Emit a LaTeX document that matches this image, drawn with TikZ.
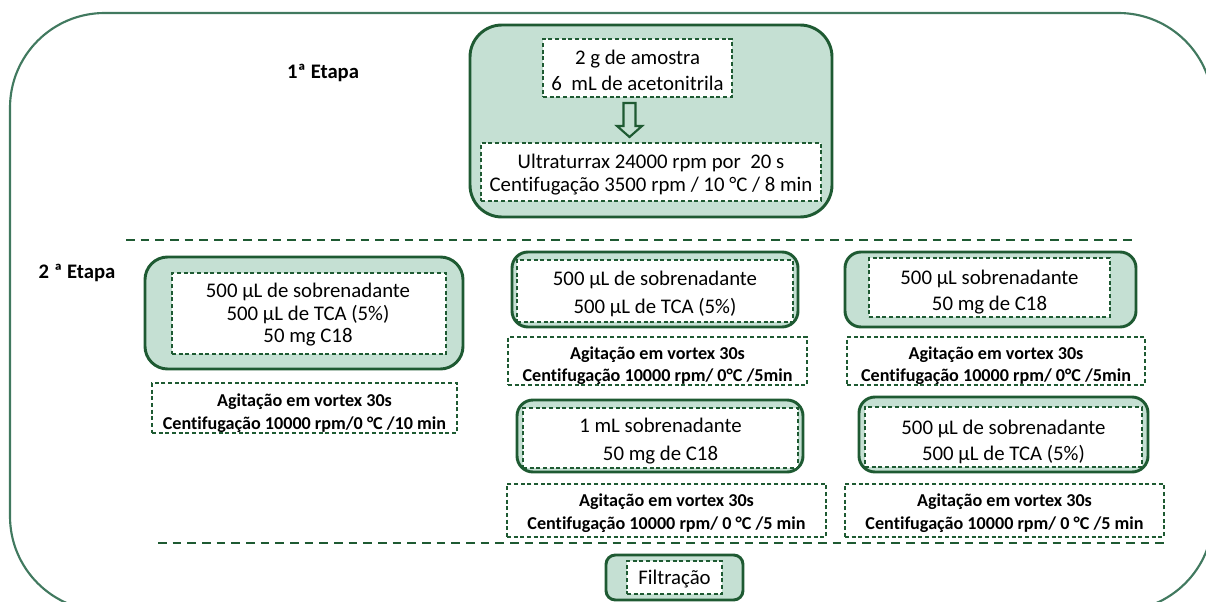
\documentclass[tikz,border=0pt]{standalone}
\usepackage{fontspec}
\setmainfont{Carlito}[Ligatures=NoCommon]
\usetikzlibrary{fit,calc}

\definecolor{framegreen}{HTML}{41795F}
\definecolor{darkgreen}{HTML}{1E5A32}
\definecolor{palegreen}{HTML}{C5E0D3}

\tikzset{
  stagebox/.style={draw=darkgreen, line width=2.2pt, fill=palegreen, inner sep=0pt},
  dashbox/.style={draw=darkgreen, line width=1pt, dash pattern=on 3pt off 2pt, fill=white, inner sep=0pt},
  notebox/.style={draw=darkgreen, line width=1pt, dash pattern=on 3pt off 2pt, fill=white, inner sep=0pt},
  sepline/.style={draw=darkgreen, line width=1.4pt, dash pattern=on 6.5pt off 4.5pt},
  bodytxt/.style={align=center, inner sep=0pt, text=black},
  boldtxt/.style={align=center, inner sep=0pt, text=black, font=\bfseries\fontsize{13.6}{16.8}\selectfont},
  stagelabel/.style={inner sep=0pt, text=black, font=\bfseries\fontsize{15.5}{18}\selectfont},
}

\begin{document}
\begin{tikzpicture}[x=0.75pt, y=-0.75pt]
\useasboundingbox (0,0) rectangle (1206,602);

% outer frame
\draw[framegreen, line width=1.6pt, rounded corners=71pt] (10,13) rectangle (1213,611);

% stage labels
\node[stagelabel] (lab1) at (323,73) {1ª Etapa};
\node[stagelabel] (lab2) at (77,273) {2 ª Etapa};

% ---------- stage 1 ----------
\node[stagebox, rounded corners=24pt, fit={(470,25) (832,217)}] (s1) {};
\node[dashbox, fit={(543,39) (732,97)}] (s1a) {};
\node[dashbox, fit={(481,143) (821,201)}] (s1b) {};
\node[bodytxt, font=\fontsize{15.6}{19.5}\selectfont] (s1at) at (637.5,70) {2 g de amostra\\6 \ mL de acetonitrila};
\node[bodytxt, font=\fontsize{15.6}{16.8}\selectfont] (s1bt) at (651,174.5) {Ultraturrax 24000 rpm por \ 20 s\\Centifugação 3500 rpm / 10 °C / 8 min};
% hollow block arrow between the two steps
\coordinate (arr) at (629.5,103);
\draw[darkgreen, line width=1.6pt, line join=miter]
  ($(arr)+(-6,0)$) -- ($(arr)+(6,0)$) -- ($(arr)+(6,23)$) -- ($(arr)+(12.5,23)$)
  -- ($(arr)+(0,34)$) -- ($(arr)+(-12.5,23)$) -- ($(arr)+(-6,23)$) -- cycle;

% separator
\coordinate (sep1a) at (126,240);
\coordinate (sep1b) at (1138,240);
\draw[sepline] (sep1a) -- (sep1b);

% ---------- stage 2, column A ----------
\node[stagebox, rounded corners=17pt, fit={(145,257) (463,369)}] (a) {};
\node[dashbox, fit={(172,273) (446,354)}] (ad) {};
\node[bodytxt, font=\fontsize{15.6}{16.9}\selectfont] (at) at (308,315) {500 µL de sobrenadante\\500 µL de TCA (5\%)\\50 mg C18};
\node[notebox, fit={(152,383) (457,433)}] (an) {};
\node[boldtxt] (ant) at (304.5,413) {Agitação em vortex 30s\\Centifugação 10000 rpm/0 °C /10 min};

% ---------- stage 2, column B ----------
\node[stagebox, rounded corners=12pt, fit={(512,252) (798,327)}] (b) {};
\node[dashbox, fit={(517,260) (793,322)}] (bd) {};
\node[bodytxt, font=\fontsize{15.6}{20.5}\selectfont] (bt) at (655,294) {500 µL de sobrenadante\\500 µL de TCA (5\%)};
\node[notebox, fit={(508,337) (807,385)}] (bn) {};
\node[boldtxt] (bnt) at (657.5,365.5) {Agitação em vortex 30s\\Centifugação 10000 rpm/ 0°C /5min};

\node[stagebox, rounded corners=12pt, fit={(517,400) (803,472)}] (d) {};
\node[dashbox, fit={(523,408) (798,468)}] (dd) {};
\node[bodytxt, font=\fontsize{15.6}{20.5}\selectfont] (dt) at (660.5,441) {1 mL sobrenadante\\50 mg de C18};
\node[notebox, fit={(507,484) (826,537)}] (dn) {};
\node[boldtxt] (dnt) at (666.5,513) {Agitação em vortex 30s\\Centifugação 10000 rpm/ 0 °C /5 min};

% ---------- stage 2, column C ----------
\node[stagebox, rounded corners=12pt, fit={(845,252) (1136,327)}] (c) {};
\node[dashbox, fit={(869,258) (1110,317)}] (cd) {};
\node[bodytxt, font=\fontsize{15.6}{19.5}\selectfont] (ct) at (989.5,292) {500 µL sobrenadante\\50 mg de C18};
\node[notebox, fit={(847,337) (1145,385)}] (cn) {};
\node[boldtxt] (cnt) at (996,365.5) {Agitação em vortex 30s\\Centifugação 10000 rpm/ 0°C /5min};

\node[stagebox, rounded corners=12pt, fit={(859,397) (1148,472)}] (e) {};
\node[dashbox, fit={(865,407) (1142,467)}] (ed) {};
\node[bodytxt, font=\fontsize{15.6}{19.5}\selectfont] (et) at (1003.5,442) {500 µL de sobrenadante\\500 µL de TCA (5\%)};
\node[notebox, fit={(845,484) (1164,537)}] (en) {};
\node[boldtxt] (ent) at (1004.5,513) {Agitação em vortex 30s\\Centifugação 10000 rpm/ 0 °C /5 min};

% separator
\coordinate (sep2a) at (158,543);
\coordinate (sep2b) at (1169,543);
\draw[sepline] (sep2a) -- (sep2b);

% ---------- filtration ----------
\node[stagebox, rounded corners=7pt, fit={(606,555) (743,600)}] (f) {};
\node[dashbox, fit={(627,561) (722,594)}] (fd) {};
\node[bodytxt, font=\fontsize{15.6}{19}\selectfont] (ft) at (674.5,579) {Filtração};
\end{tikzpicture}
\end{document}
